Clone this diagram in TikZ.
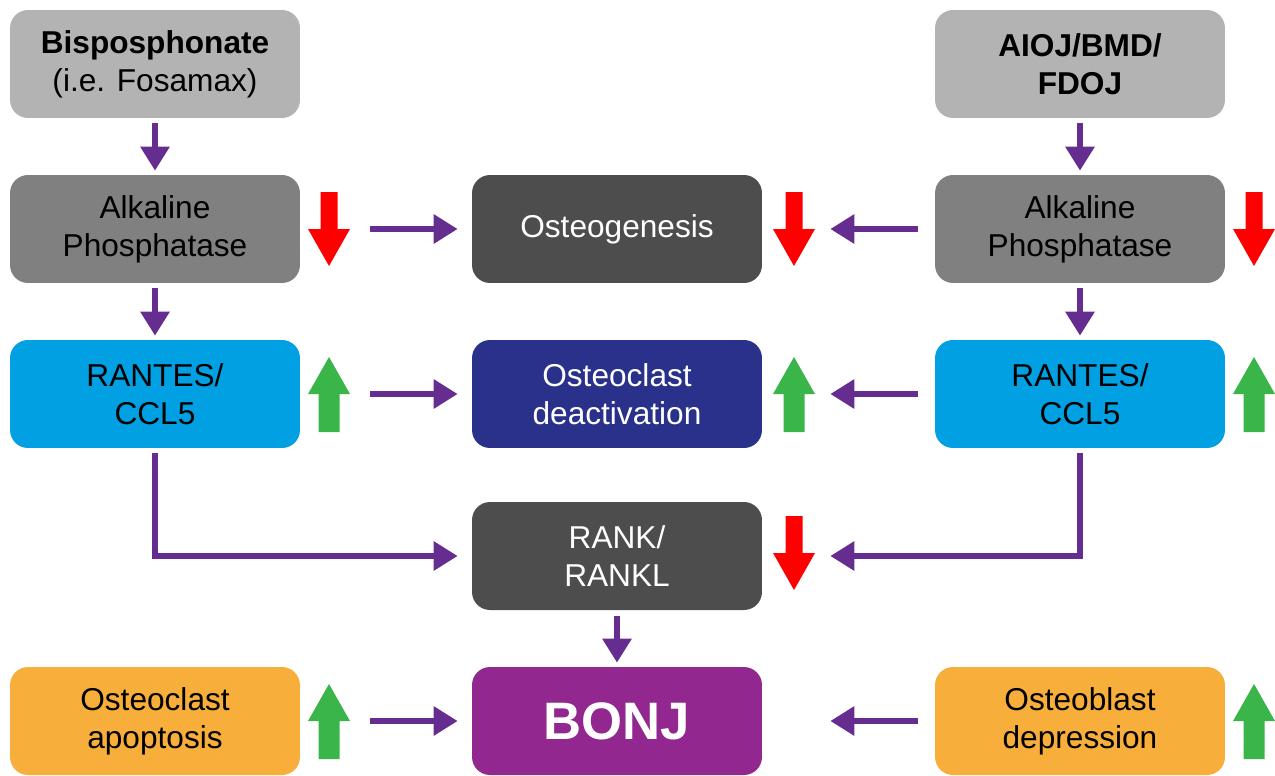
\documentclass[tikz,border=0pt]{standalone}
\usepackage{fontspec}
\setmainfont{Liberation Sans}
\usepackage{tikz}
\usetikzlibrary{arrows.meta}
\usepackage{xcolor}

\definecolor{boxlight}{HTML}{B3B3B3}
\definecolor{boxmid}{HTML}{808080}
\definecolor{boxdark}{HTML}{4D4D4D}
\definecolor{boxcyan}{HTML}{00A0E2}
\definecolor{boxnavy}{HTML}{29318A}
\definecolor{boxorange}{HTML}{F8AE3B}
\definecolor{boxpurple}{HTML}{92278F}
\definecolor{flowpurple}{HTML}{662D91}
\definecolor{uparrow}{HTML}{3AB54A}
\definecolor{downarrow}{HTML}{FF0000}

% fat red arrow, top left corner at (#1,#2)
\newcommand{\reddown}[2]{
  \fill[downarrow] (#1+12.5,#2) -- (#1+29.5,#2) -- (#1+29.5,#2+37) -- (#1+42,#2+37)
    -- (#1+21,#2+74) -- (#1,#2+37) -- (#1+12.5,#2+37) -- cycle;
}
% fat green arrow, top left corner at (#1,#2)
\newcommand{\greenup}[2]{
  \fill[uparrow] (#1+21,#2) -- (#1+42,#2+37) -- (#1+31.5,#2+37) -- (#1+31.5,#2+75)
    -- (#1+10.5,#2+75) -- (#1+10.5,#2+37) -- (#1,#2+37) -- cycle;
}

\tikzset{
  box/.style={rounded corners=0.36cm, minimum width=5.8cm, minimum height=2.16cm,
    align=center, inner sep=0pt, font=\fontsize{18}{21.6}\selectfont},
  flow/.style={flowpurple, line width=0.13cm, -{Triangle[length=0.48cm, width=0.56cm]}},
}

\begin{document}
\begin{tikzpicture}[x=0.02cm, y=-0.02cm]
    \useasboundingbox (0,0) rectangle (1275,775);

    \node[box, fill=boxlight] (bis) at (155, 64) {\textbf{Bisposphonate}\\(i.e. Fosamax)};
    \node[box, fill=boxlight] (aioj) at (1080, 64) {\textbf{AIOJ/BMD/}\\\textbf{FDOJ}};

    \node[box, fill=boxmid] (alkleft) at (155, 229) {Alkaline\\Phosphatase};
    \node[box, fill=boxdark, text=white] (osteo) at (617, 229) {Osteogenesis};
    \node[box, fill=boxmid] (alkright) at (1080, 229) {Alkaline\\Phosphatase};

    \node[box, fill=boxcyan] (rantleft) at (155, 394) {RANTES/\\CCL5};
    \node[box, fill=boxnavy, text=white] (deact) at (617, 394) {Osteoclast\\deactivation};
    \node[box, fill=boxcyan] (rantright) at (1080, 394) {RANTES/\\CCL5};

    \node[box, fill=boxdark, text=white] (rank) at (617, 556) {RANK/\\RANKL};

    \node[box, fill=boxorange] (apop) at (155, 721) {Osteoclast\\apoptosis};
    \node[box, fill=boxpurple, text=white, font=\fontsize{30}{36}\selectfont\bfseries] (bonj) at (617, 721) {BONJ};
    \node[box, fill=boxorange] (depr) at (1080, 721) {Osteoblast\\depression};

    % vertical connectors
    \draw[flow, shorten <=0.1cm, shorten >=0.08cm] (bis) -- (alkleft);
    \draw[flow, shorten <=0.1cm, shorten >=0.08cm] (alkleft) -- (rantleft);
    \draw[flow, shorten <=0.1cm, shorten >=0.08cm] (aioj) -- (alkright);
    \draw[flow, shorten <=0.1cm, shorten >=0.08cm] (alkright) -- (rantright);
    \draw[flow, shorten <=0.12cm, shorten >=0.08cm] (rank) -- (bonj);

    % horizontal connectors
    \draw[flow, shorten <=1.4cm, shorten >=0.28cm] (alkleft) -- (osteo);
    \draw[flow, shorten <=0.34cm, shorten >=1.36cm] (alkright) -- (osteo);
    \draw[flow, shorten <=1.4cm, shorten >=0.28cm] (rantleft) -- (deact);
    \draw[flow, shorten <=0.34cm, shorten >=1.36cm] (rantright) -- (deact);
    \draw[flow, shorten <=1.4cm, shorten >=0.28cm] (apop) -- (bonj);
    \draw[flow, shorten <=0.34cm, shorten >=1.36cm] (depr) -- (bonj);

    % elbow connectors
    \draw[flow, shorten <=0.1cm, shorten >=0.28cm] (rantleft.south) |- (rank.west);
    \draw[flow, shorten <=0.1cm, shorten >=1.36cm] (rantright.south) |- (rank.east);

    % up and down markers
    \reddown{308}{192}
    \reddown{773}{192}
    \reddown{1233}{192}
    \reddown{773}{516}
    \greenup{308}{357}
    \greenup{773}{357}
    \greenup{1233}{357}
    \greenup{308}{684}
    \greenup{1233}{684}
\end{tikzpicture}
\end{document}
